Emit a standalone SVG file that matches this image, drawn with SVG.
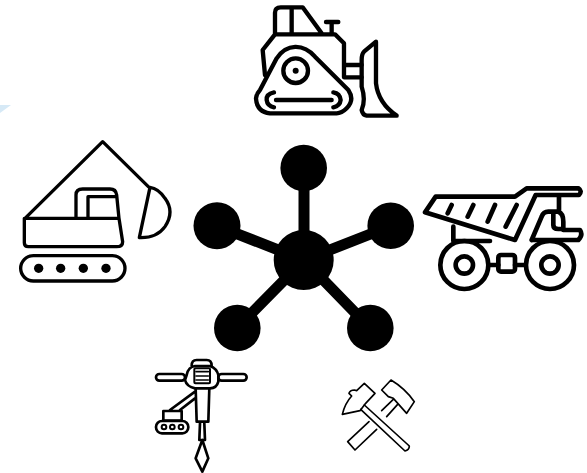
<svg xmlns="http://www.w3.org/2000/svg" width="587" height="473" viewBox="0 0 587 473">
<style>
.i{fill:none;stroke:#000;stroke-linecap:round;stroke-linejoin:round}
.d{fill:#000;stroke:none}
.s{stroke:#000;stroke-width:11;fill:none}
</style>
<rect width="587" height="473" fill="#fff"/>
<polygon points="0,105 11,105 0,113" fill="#d6e9f6"/>
<g id="connectors">
<path class="s" d="M304 260V168M304 260L217 226M304 260L391 226M304 260L237 328M304 260L370 328"/>
</g>
<g id="hub"><circle cx="303.7" cy="260" r="30" fill="#000"/></g>
<g id="node-top"><circle cx="303.7" cy="168" r="23.3" fill="#000"/></g>
<g id="node-left"><circle cx="217" cy="225.7" r="23.5" fill="#000"/></g>
<g id="node-right"><circle cx="390.7" cy="225.7" r="23.3" fill="#000"/></g>
<g id="node-bottom-left"><circle cx="237.3" cy="328" r="23.3" fill="#000"/></g>
<g id="node-bottom-right"><circle cx="370.3" cy="328" r="23.3" fill="#000"/></g>
<g id="bulldozer" transform="translate(240 0) scale(.3333)">
<path class="i" stroke-width="13" d="M105 100V38Q105 22 122 22H188L245 100M155 22V100M75 225L68 150L105 103H285L312 130V232M275 100V68M258 66H295"/>
<path class="i" stroke-width="13" d="M60 270L110 175C140 130 190 130 225 170L325 270Q345 300 320 325Q305 340 290 340H90Q50 335 48 295Q50 280 60 270Z"/>
<circle class="i" stroke-width="13" cx="167" cy="212" r="37"/>
<circle class="d" cx="167" cy="212" r="9"/>
<path class="i" stroke-width="13" d="M108 300H275M102 277Q78 282 80 300Q82 318 102 322M280 277Q300 280 302 300Q300 318 280 322M315 195H365M315 232H365"/>
<path class="i" stroke-width="13" d="M408 125L372 155Q365 162 365 180V260Q378 300 365 330Q368 345 380 347H470Q415 310 408 250Z"/>
</g>
<g id="excavator" transform="translate(0 90) scale(.3333)">
<path class="i" stroke-width="10" d="M75 385L308 155L445 290M75 385H357L368 455Q368 470 350 470H85Q73 470 73 458V385M228 385V315Q228 297 248 297H330Q348 297 350 315L357 385M264 385V320H350"/>
<path class="i" stroke-width="10" d="M450 292L418 443Q470 445 495 410Q525 365 495 325Q475 295 450 292Z"/>
<rect class="i" stroke-width="10" x="62" y="497" width="313" height="76" rx="38"/>
<circle class="d" cx="116" cy="535" r="14"/><circle class="d" cx="182" cy="535" r="14"/><circle class="d" cx="250" cy="535" r="14"/><circle class="d" cx="318" cy="535" r="14"/>
</g>
<g id="dump-truck" transform="translate(415 175) scale(.3333)">
<path class="i" stroke-width="14" d="M30 112L62 65H300L335 40H490Q503 48 492 60H362L300 195Z"/>
<path class="i" stroke-width="14" d="M110 90L98 115M175 90L158 125M240 90L218 140M305 90L272 155M432 62V108M115 155V198H225M350 195L380 125Q385 110 400 110H430Q445 115 445 140V165H495Q505 180 490 195H350M415 115V150Q415 162 430 162H445"/>
<circle class="i" stroke-width="14" cx="148" cy="270" r="72"/><circle class="i" stroke-width="14" cx="148" cy="270" r="26"/>
<circle class="i" stroke-width="14" cx="405" cy="270" r="72"/><circle class="i" stroke-width="14" cx="405" cy="270" r="26"/>
<rect class="i" stroke-width="14" x="250" y="240" width="50" height="50" rx="8"/>
<path class="i" stroke-width="14" d="M222 270H250M300 270H330"/>
</g>
<g id="jackhammer" transform="translate(145 350) scale(.3333)">
<rect class="i" stroke-width="8" x="33" y="72" width="87" height="20" rx="10"/>
<rect class="i" stroke-width="8" x="220" y="72" width="85" height="20" rx="10"/>
<path class="i" stroke-width="8" d="M125 75Q130 50 150 48H195Q215 55 220 75V95Q215 115 195 115H150Q125 110 120 90ZM140 47Q140 30 155 30H185Q200 30 200 47"/>
<rect class="i" stroke-width="6" x="148" y="55" width="47" height="45" rx="3"/>
<path class="i" stroke-width="5" d="M153 65H190M153 78H190M153 90H190"/>
<path class="i" stroke-width="8" d="M152 115L155 215H190L193 115M165 220L163 270H180L178 220M172 270L152 325L172 365L190 325ZM150 125L75 180M150 145L105 180M55 183H110V212H55Z"/>
<rect class="i" stroke-width="8" x="33" y="213" width="97" height="37" rx="18"/>
<circle class="i" stroke-width="6" cx="57" cy="231" r="7"/><circle class="i" stroke-width="6" cx="82" cy="231" r="7"/><circle class="i" stroke-width="6" cx="108" cy="231" r="7"/>
</g>
<g id="hammers" transform="translate(325 370) scale(.3333)">
<path class="i" stroke-width="5" d="M118 105L253 228Q253 240 240 243L107 118M205 88L170 122M218 103L185 140M132 155L68 215L90 240L155 178"/>
<path class="i" stroke-width="5" d="M118 40L150 70L122 100L105 122L52 133Q60 100 80 78L72 70Q75 60 88 60L95 62ZM170 60L198 30Q240 55 268 95L245 130L205 85L190 80Z"/>
</g>
</svg>
